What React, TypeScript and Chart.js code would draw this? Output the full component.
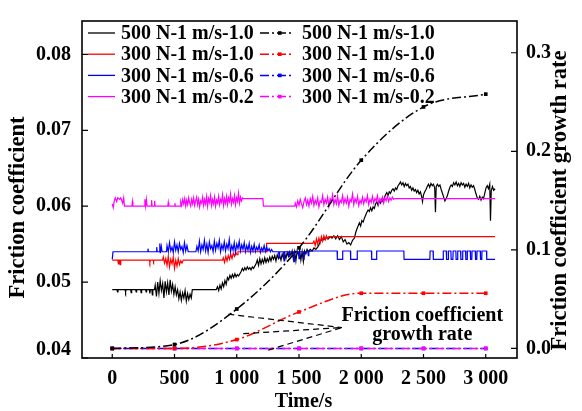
import React, { useEffect, useRef } from 'react';
import { Chart, registerables } from 'chart.js';

Chart.register(...registerables);

const FONT = '"Liberation Serif", "Times New Roman", serif';

// ---------- axes ----------
const xTicks = [0, 500, 1000, 1500, 2000, 2500, 3000];
const xTickLabels = ['0', '500', '1 000', '1 500', '2 000', '2 500', '3 000'];
const yTicks = [0.04, 0.05, 0.06, 0.07, 0.08];
const yTickLabels = ['0.04', '0.05', '0.06', '0.07', '0.08'];
const y1Ticks = [0, 0.1, 0.2, 0.3];
const y1TickLabels = ['0.0', '0.1', '0.2', '0.3'];

const xTitle = 'Time/s';
const yTitle = 'Friction coefficient';
const y1Title = 'Friction coefficient growth rate';

// ---------- series ----------
const seriesLabels = ['500 N-1 m/s-1.0', '300 N-1 m/s-1.0', '300 N-1 m/s-0.6', '300 N-1 m/s-0.2'];
const seriesColors = ['#000000', '#ff0000', '#0000ff', '#ff00ff'];

// Friction coefficient [time s, value], 500 N 1 m/s (black)
const f500_10: [number, number][] = [
  [0, 0.0490], [38, 0.0490], [42, 0.0487], [46, 0.0490], [103, 0.0490], [107, 0.0487], [111, 0.0490],
  [148, 0.0490], [152, 0.0486], [156, 0.0490], [188, 0.0490], [192, 0.0487], [196, 0.0490], [228, 0.0490],
  [232, 0.0486], [236, 0.0490], [268, 0.0490], [272, 0.0487], [276, 0.0490], [298, 0.0490], [302, 0.0485],
  [306, 0.0490], [318, 0.0490], [322, 0.0483], [326, 0.0490], [339, 0.0490],
  [345, 0.0496], [355, 0.0481], [365, 0.0500], [375, 0.0485], [385, 0.0502], [395, 0.0489], [405, 0.0498],
  [415, 0.0479], [425, 0.0501], [435, 0.0487], [445, 0.0499], [455, 0.0483], [465, 0.0503], [475, 0.0488],
  [485, 0.0497], [495, 0.0484], [505, 0.0494],
  [515, 0.0483], [525, 0.0490], [535, 0.0478], [545, 0.0487], [555, 0.0476], [565, 0.0486], [575, 0.0479],
  [585, 0.0489], [595, 0.0475], [605, 0.0485], [615, 0.0477], [625, 0.0484], [635, 0.0479], [643, 0.0490], [835, 0.0490],
  [845, 0.0494], [855, 0.0489], [865, 0.0496], [875, 0.0491], [885, 0.0499], [895, 0.0494], [905, 0.0502],
  [915, 0.0497], [925, 0.0506], [935, 0.0503], [945, 0.0509], [955, 0.0505], [965, 0.0510], [975, 0.0506],
  [985, 0.0511], [995, 0.0507], [1005, 0.0510], [1015, 0.0508], [1025, 0.0511], [1035, 0.0514], [1045, 0.0518],
  [1055, 0.0515], [1065, 0.0519], [1075, 0.0516], [1085, 0.0520], [1095, 0.0517], [1105, 0.0519], [1115, 0.0516],
  [1125, 0.0520], [1135, 0.0518], [1145, 0.0521], [1155, 0.0524], [1165, 0.0529], [1175, 0.0522], [1185, 0.0531],
  [1195, 0.0524], [1205, 0.0530], [1215, 0.0525], [1225, 0.0532], [1235, 0.0526], [1245, 0.0531], [1255, 0.0527],
  [1265, 0.0533], [1275, 0.0528], [1285, 0.0534], [1295, 0.0530], [1305, 0.0535], [1315, 0.0528], [1325, 0.0536],
  [1335, 0.0531], [1345, 0.0535], [1355, 0.0529], [1365, 0.0537], [1375, 0.0532], [1385, 0.0538], [1395, 0.0531],
  [1405, 0.0539], [1415, 0.0534], [1425, 0.0540], [1435, 0.0535], [1445, 0.0541], [1455, 0.0530], [1465, 0.0540],
  [1475, 0.0528], [1485, 0.0541], [1495, 0.0536], [1505, 0.0542], [1515, 0.0529], [1525, 0.0540], [1535, 0.0527],
  [1545, 0.0541], [1555, 0.0537], [1565, 0.0543], [1575, 0.0540], [1590, 0.0543], [1605, 0.0541], [1620, 0.0545],
  [1635, 0.0543], [1650, 0.0546], [1660, 0.0549], [1670, 0.0553], [1680, 0.0556], [1690, 0.0555], [1700, 0.0558],
  [1710, 0.0556], [1720, 0.0559], [1735, 0.0557], [1750, 0.0560], [1765, 0.0558], [1780, 0.0561], [1795, 0.0557],
  [1810, 0.0561], [1825, 0.0556], [1840, 0.0560], [1855, 0.0553], [1870, 0.0556], [1885, 0.0550], [1900, 0.0552],
  [1915, 0.0549], [1930, 0.0555], [1945, 0.0558],
  [1955, 0.0565], [1965, 0.0570], [1975, 0.0574], [1985, 0.0578], [1995, 0.0574], [2005, 0.0581], [2015, 0.0579],
  [2025, 0.0584], [2035, 0.0588], [2045, 0.0592], [2055, 0.0595], [2065, 0.0593], [2075, 0.0598], [2085, 0.0594],
  [2095, 0.0599], [2105, 0.0597], [2115, 0.0603], [2125, 0.0606], [2135, 0.0601], [2145, 0.0607], [2155, 0.0604],
  [2165, 0.0609], [2175, 0.0606], [2185, 0.0611], [2195, 0.0615], [2205, 0.0618], [2215, 0.0614], [2225, 0.0619],
  [2235, 0.0617], [2245, 0.0621], [2255, 0.0623], [2265, 0.0620], [2275, 0.0624], [2285, 0.0622], [2295, 0.0627],
  [2305, 0.0629], [2315, 0.0632], [2325, 0.0628], [2335, 0.0631], [2345, 0.0626], [2355, 0.0630], [2365, 0.0627],
  [2375, 0.0629], [2385, 0.0624], [2395, 0.0626], [2405, 0.0621], [2415, 0.0624], [2425, 0.0620], [2435, 0.0622],
  [2445, 0.0618], [2455, 0.0621], [2465, 0.0616], [2475, 0.0619], [2485, 0.0613], [2492, 0.0606], [2500, 0.0615],
  [2510, 0.0619], [2520, 0.0622], [2530, 0.0626], [2540, 0.0629], [2550, 0.0625], [2560, 0.0630], [2570, 0.0627],
  [2580, 0.0629], [2590, 0.0624], [2596, 0.0592], [2602, 0.0626], [2612, 0.0629], [2622, 0.0626], [2632, 0.0628],
  [2642, 0.0622], [2652, 0.0617], [2662, 0.0612], [2672, 0.0607], [2682, 0.0610], [2692, 0.0614], [2702, 0.0620],
  [2712, 0.0625], [2722, 0.0628], [2732, 0.0626], [2742, 0.0631], [2752, 0.0628], [2762, 0.0632], [2772, 0.0627],
  [2782, 0.0630], [2792, 0.0626], [2802, 0.0631], [2812, 0.0628], [2822, 0.0630], [2832, 0.0625], [2842, 0.0629],
  [2852, 0.0626], [2862, 0.0630], [2872, 0.0624], [2882, 0.0628], [2892, 0.0625], [2902, 0.0627], [2912, 0.0622],
  [2922, 0.0616], [2932, 0.0611], [2942, 0.0609], [2952, 0.0613], [2962, 0.0608], [2972, 0.0612], [2982, 0.0610],
  [2992, 0.0617], [3002, 0.0624], [3012, 0.0627], [3022, 0.0623], [3032, 0.0629], [3038, 0.0581], [3044, 0.0620],
  [3054, 0.0626], [3064, 0.0621], [3075, 0.0623],
];

// Friction coefficient, 300 N 1 m/s (red)
const f300_10: [number, number][] = [
  [0, 0.0529], [45, 0.0529], [49, 0.0524], [53, 0.0529], [60, 0.0529], [64, 0.0523], [68, 0.0529],
  [298, 0.0529], [302, 0.0526], [306, 0.0529], [328, 0.0529], [332, 0.0527], [336, 0.0529], [404, 0.0529],
  [410, 0.0533], [420, 0.0525], [430, 0.0531], [440, 0.0522], [450, 0.0534], [460, 0.0520], [470, 0.0530],
  [480, 0.0524], [490, 0.0533], [500, 0.0518], [510, 0.0529], [520, 0.0521], [530, 0.0531], [540, 0.0523],
  [550, 0.0528], [560, 0.0525], [570, 0.0529], [886, 0.0529],
  [892, 0.0532], [902, 0.0526], [912, 0.0534], [922, 0.0528], [932, 0.0535], [942, 0.0530], [952, 0.0537],
  [962, 0.0531], [972, 0.0538], [982, 0.0534], [992, 0.0539], [1002, 0.0536], [1010, 0.0540], [1236, 0.0540],
  [1240, 0.0551], [1611, 0.0551],
  [1620, 0.0554], [1630, 0.0548], [1640, 0.0557], [1650, 0.0550], [1660, 0.0558], [1670, 0.0552], [1680, 0.0560],
  [1690, 0.0554], [1700, 0.0561], [1710, 0.0556], [1720, 0.0561], [1730, 0.0557], [1740, 0.0560], [1750, 0.0560],
  [3075, 0.0560],
];

// Friction coefficient, 300 N 0.6 m/s (blue)
const f300_06: [number, number][] = [
  [0, 0.0530], [6, 0.0540], [283, 0.0540], [287, 0.0544], [291, 0.0540], [353, 0.0540], [357, 0.0546],
  [361, 0.0540], [378, 0.0540], [382, 0.0551], [386, 0.0538], [394, 0.0547], [400, 0.0540], [436, 0.0540],
  [440, 0.0548], [450, 0.0540], [460, 0.0552], [470, 0.0541], [480, 0.0546], [490, 0.0539], [500, 0.0553],
  [510, 0.0542], [520, 0.0549], [530, 0.0540], [540, 0.0551], [550, 0.0543], [560, 0.0547], [570, 0.0539],
  [580, 0.0552], [590, 0.0541], [600, 0.0548], [610, 0.0540], [618, 0.0540], [672, 0.0540],
  [680, 0.0547], [690, 0.0541], [700, 0.0554], [710, 0.0540], [720, 0.0549], [730, 0.0543], [740, 0.0555],
  [750, 0.0541], [760, 0.0550], [770, 0.0539], [780, 0.0553], [790, 0.0544], [800, 0.0548], [810, 0.0540],
  [820, 0.0554], [830, 0.0542], [840, 0.0551], [850, 0.0545], [860, 0.0555], [870, 0.0540], [880, 0.0549],
  [890, 0.0543], [900, 0.0553], [910, 0.0541], [920, 0.0550], [930, 0.0544], [940, 0.0556], [950, 0.0540],
  [960, 0.0548], [970, 0.0542], [980, 0.0552], [990, 0.0539], [1000, 0.0550], [1010, 0.0544], [1020, 0.0554],
  [1030, 0.0541], [1040, 0.0549], [1050, 0.0543], [1060, 0.0552], [1070, 0.0540], [1080, 0.0548], [1090, 0.0542],
  [1100, 0.0551], [1110, 0.0539], [1120, 0.0547], [1130, 0.0541], [1140, 0.0550], [1150, 0.0540], [1160, 0.0546],
  [1170, 0.0542], [1180, 0.0549], [1190, 0.0539], [1200, 0.0545], [1210, 0.0541], [1220, 0.0548], [1230, 0.0540],
  [1240, 0.0546], [1250, 0.0541], [1260, 0.0544], [1270, 0.0540], [1280, 0.0543], [1290, 0.0540],
  [1336, 0.0540], [1340, 0.0532], [1344, 0.0540], [1376, 0.0540], [1380, 0.0528], [1384, 0.0540], [1416, 0.0540],
  [1420, 0.0534], [1424, 0.0540], [1456, 0.0540], [1460, 0.0527], [1464, 0.0540], [1496, 0.0540], [1500, 0.0531],
  [1504, 0.0540], [1536, 0.0540], [1540, 0.0529], [1544, 0.0540], [1571, 0.0540], [1575, 0.0535], [1579, 0.0540],
  [1600, 0.0541], [1806, 0.0541], [1808, 0.0530], [1849, 0.0530], [1851, 0.0541], [1913, 0.0541], [1915, 0.0530],
  [1966, 0.0530], [1968, 0.0541], [2082, 0.0541], [2084, 0.0530], [2122, 0.0530], [2124, 0.0541], [2342, 0.0541],
  [2344, 0.0530], [2551, 0.0530], [2553, 0.0541], [2577, 0.0541], [2579, 0.0530], [2657, 0.0530], [2659, 0.0541],
  [2683, 0.0541], [2685, 0.0530], [2698, 0.0530], [2700, 0.0541], [2720, 0.0541], [2722, 0.0530], [2736, 0.0530],
  [2738, 0.0541], [2760, 0.0541], [2762, 0.0530], [2773, 0.0530], [2775, 0.0541], [2798, 0.0541], [2800, 0.0530],
  [2813, 0.0530], [2815, 0.0541], [2838, 0.0541], [2840, 0.0530], [2850, 0.0530], [2852, 0.0541], [2876, 0.0541],
  [2878, 0.0530], [2888, 0.0530], [2890, 0.0541], [2916, 0.0541], [2918, 0.0530], [2928, 0.0530], [2930, 0.0541],
  [2956, 0.0541], [2958, 0.0530], [2968, 0.0530], [2970, 0.0541], [3006, 0.0541], [3008, 0.0530], [3075, 0.0530],
];

// Friction coefficient, 300 N 0.2 m/s (magenta)
const f300_02: [number, number][] = [
  [0, 0.0603], [8, 0.0598], [16, 0.0607], [24, 0.0611], [36, 0.0606], [44, 0.0611], [60, 0.0609], [68, 0.0611],
  [84, 0.0604], [92, 0.0611], [98, 0.0600],
  [158, 0.0600], [162, 0.0606], [166, 0.0600], [258, 0.0600], [262, 0.0609], [268, 0.0600], [274, 0.0609],
  [280, 0.0600], [312, 0.0600], [316, 0.0608], [320, 0.0600], [336, 0.0600], [340, 0.0607], [344, 0.0600],
  [446, 0.0600], [450, 0.0605], [454, 0.0600], [499, 0.0600], [503, 0.0604], [507, 0.0600], [545, 0.0600],
  [550, 0.0606], [558, 0.0601], [566, 0.0609], [574, 0.0603], [582, 0.0610], [590, 0.0600], [598, 0.0608],
  [606, 0.0602], [614, 0.0611], [622, 0.0604], [630, 0.0600], [638, 0.0609], [646, 0.0603], [654, 0.0611],
  [662, 0.0601], [670, 0.0607], [678, 0.0612], [686, 0.0602], [694, 0.0609], [702, 0.0599], [710, 0.0607],
  [718, 0.0604], [726, 0.0612], [734, 0.0601], [742, 0.0609], [750, 0.0603], [758, 0.0613], [766, 0.0600],
  [774, 0.0610], [782, 0.0605], [790, 0.0614], [798, 0.0601], [806, 0.0609], [814, 0.0603], [822, 0.0612],
  [830, 0.0600], [838, 0.0608], [846, 0.0604], [854, 0.0613], [862, 0.0602], [870, 0.0609], [878, 0.0605],
  [886, 0.0615], [894, 0.0601], [902, 0.0610], [910, 0.0604], [918, 0.0613], [926, 0.0602], [934, 0.0611],
  [942, 0.0606], [950, 0.0616], [958, 0.0603], [966, 0.0610], [974, 0.0605], [982, 0.0614], [990, 0.0602],
  [998, 0.0611], [1006, 0.0606], [1014, 0.0617], [1022, 0.0604], [1030, 0.0612], [1038, 0.0607], [1046, 0.0611],
  [1052, 0.0610], [1210, 0.0610], [1214, 0.0600], [1466, 0.0600],
  [1470, 0.0604], [1480, 0.0599], [1490, 0.0607], [1500, 0.0601], [1510, 0.0609], [1520, 0.0603], [1530, 0.0598],
  [1540, 0.0606], [1550, 0.0611], [1560, 0.0602], [1570, 0.0608], [1580, 0.0600], [1590, 0.0610], [1600, 0.0604],
  [1610, 0.0613], [1620, 0.0601], [1630, 0.0608], [1640, 0.0603], [1650, 0.0611], [1660, 0.0599], [1670, 0.0607],
  [1680, 0.0605], [1690, 0.0614], [1700, 0.0602], [1710, 0.0609], [1720, 0.0604], [1730, 0.0612], [1740, 0.0600],
  [1750, 0.0610], [1760, 0.0606], [1770, 0.0615], [1780, 0.0602], [1790, 0.0609], [1800, 0.0603], [1810, 0.0613],
  [1820, 0.0601], [1830, 0.0608], [1840, 0.0605], [1850, 0.0614], [1860, 0.0603], [1870, 0.0610], [1880, 0.0604],
  [1890, 0.0612], [1900, 0.0600], [1910, 0.0609], [1920, 0.0606], [1930, 0.0616], [1940, 0.0602], [1950, 0.0610],
  [1960, 0.0605], [1970, 0.0613], [1980, 0.0601], [1990, 0.0608], [2000, 0.0604], [2010, 0.0612], [2020, 0.0603],
  [2030, 0.0610], [2040, 0.0606], [2050, 0.0614], [2060, 0.0602], [2070, 0.0609], [2080, 0.0605], [2090, 0.0613],
  [2100, 0.0604], [2110, 0.0610], [2120, 0.0607], [2130, 0.0614], [2140, 0.0603], [2150, 0.0610], [2160, 0.0606],
  [2170, 0.0612], [2180, 0.0604], [2190, 0.0611], [2200, 0.0607], [2210, 0.0613], [2220, 0.0606], [2230, 0.0611],
  [2240, 0.0608], [2250, 0.0612], [2260, 0.0609], [2268, 0.0610], [3075, 0.0610],
];

// Friction coefficient growth rate (right axis)
const growthT = [0, 500, 1000, 1500, 2000, 2500, 3000];
const g500_10 = [0, 0.004, 0.040, 0.102, 0.191, 0.245, 0.258];
const g300_10 = [0, 0.000, 0.009, 0.037, 0.056, 0.056, 0.056];
const g300_06 = [0, 0, 0, 0, 0, 0, 0];
const g300_02 = [0, 0, 0, 0, 0, 0, 0];

// Annotation (data coordinates: time, growth rate)
const annoText = ['Friction coefficient', 'growth rate'];
const annoTextT = 2490;
const annoTextR = [0.0332, 0.0143];
const annoStartT = [932, 1052, 1253];
const annoStartR = [0.0347, 0.015, -0.0017];
const annoEndT = 1845;
const annoEndR = 0.0212;

const DASHDOT = [9, 3, 2, 3];

const overlayPlugin = {
  id: 'overlay',
  afterDraw(chart: any) {
    const { ctx, chartArea: a, scales } = chart;
    const sx = scales.x, sy = scales.y, sy1 = scales.y1;
    ctx.save();
    // frame
    ctx.strokeStyle = '#000';
    ctx.lineWidth = 1.6;
    ctx.setLineDash([]);
    ctx.strokeRect(a.left, a.top, a.right - a.left, a.bottom - a.top);
    // inward tick marks
    ctx.lineWidth = 1.2;
    ctx.beginPath();
    yTicks.forEach((v) => { const p = sy.getPixelForValue(v); ctx.moveTo(a.left, p); ctx.lineTo(a.left + 6, p); });
    y1Ticks.forEach((v) => { const p = sy1.getPixelForValue(v); ctx.moveTo(a.right, p); ctx.lineTo(a.right - 6, p); });
    xTicks.forEach((v) => { const p = sx.getPixelForValue(v); ctx.moveTo(p, a.bottom); ctx.lineTo(p, a.bottom - 4); });
    ctx.stroke();

    // axis titles
    ctx.fillStyle = '#000';
    ctx.textAlign = 'center';
    ctx.textBaseline = 'middle';
    ctx.font = `bold 20px ${FONT}`;
    ctx.fillText(xTitle, (a.left + a.right) / 2 + 4, 402);
    ctx.font = `bold 22.5px ${FONT}`;
    ctx.save();
    ctx.translate(18.5, (a.top + a.bottom) / 2 + 18);
    ctx.rotate(-Math.PI / 2);
    ctx.fillText(yTitle, 0, 0);
    ctx.restore();
    ctx.save();
    ctx.translate(a.right + 43, (a.top + a.bottom) / 2 + 11);
    ctx.rotate(-Math.PI / 2);
    ctx.fillText(y1Title, 0, 0);
    ctx.restore();

    // legend
    ctx.font = `bold 20px ${FONT}`;
    ctx.textAlign = 'left';
    seriesLabels.forEach((lab, i) => {
      const yy = a.top + 12 + i * 21.2;
      const col = seriesColors[i];
      ctx.strokeStyle = col;
      ctx.lineWidth = 1.3;
      ctx.setLineDash([]);
      ctx.beginPath();
      ctx.moveTo(a.left + 6, yy);
      ctx.lineTo(a.left + 33, yy);
      ctx.stroke();
      ctx.fillStyle = '#000';
      ctx.fillText(lab, a.left + 39, yy + 1);
      ctx.setLineDash(DASHDOT);
      ctx.lineWidth = 1.5;
      ctx.beginPath();
      ctx.moveTo(a.left + 178, yy);
      ctx.lineTo(a.left + 211, yy);
      ctx.stroke();
      ctx.setLineDash([]);
      ctx.fillStyle = col;
      ctx.fillRect(a.left + 196, yy - 1.8, 3.6, 3.6);
      ctx.fillStyle = '#000';
      ctx.fillText(lab, a.left + 220, yy + 1);
    });

    // annotation
    const ex = sx.getPixelForValue(annoEndT);
    const ey = sy1.getPixelForValue(annoEndR);
    ctx.strokeStyle = '#000';
    ctx.lineWidth = 1.2;
    ctx.setLineDash([6, 4]);
    annoStartT.forEach((t, i) => {
      ctx.beginPath();
      ctx.moveTo(sx.getPixelForValue(t), sy1.getPixelForValue(annoStartR[i]));
      ctx.lineTo(ex, ey);
      ctx.stroke();
    });
    ctx.setLineDash([]);
    ctx.textAlign = 'center';
    ctx.font = `bold 20px ${FONT}`;
    annoText.forEach((s, i) => {
      ctx.fillText(s, sx.getPixelForValue(annoTextT), sy1.getPixelForValue(annoTextR[i]));
    });
    ctx.restore();
  },
};

export default function App() {
  const ref = useRef<HTMLCanvasElement | null>(null);
  useEffect(() => {
    if (!ref.current) return;
    const growthDs = (label: string, data: number[], color: string, offset: number) => ({
      label,
      data: growthT.map((x, i) => ({ x, y: data[i] })),
      yAxisID: 'y1',
      borderColor: color,
      backgroundColor: color,
      borderWidth: 1.5,
      borderDash: DASHDOT,
      borderDashOffset: offset,
      cubicInterpolationMode: 'monotone' as const,
      pointStyle: 'rect' as const,
      pointRadius: 2.6,
      pointBorderWidth: 0,
      pointBackgroundColor: color,
      fill: false,
    });
    const frictionDs = (label: string, d: [number, number][], color: string) => ({
      label,
      data: d.map(([x, y]) => ({ x, y })),
      yAxisID: 'y',
      borderColor: color,
      backgroundColor: color,
      borderWidth: 1.2,
      tension: 0,
      pointRadius: 0,
      fill: false,
    });
    const tickFont = { family: FONT, size: 20, weight: 'bold' as const, lineHeight: 1.2 };
    const chart = new Chart(ref.current, {
      type: 'line',
      data: {
        datasets: [
          growthDs(seriesLabels[0], g500_10, seriesColors[0], 0),
          growthDs(seriesLabels[1], g300_10, seriesColors[1], 0),
          growthDs(seriesLabels[3], g300_02, seriesColors[3], 0),
          growthDs(seriesLabels[2], g300_06, seriesColors[2], 6),
          frictionDs(seriesLabels[3], f300_02, seriesColors[3]),
          frictionDs(seriesLabels[2], f300_06, seriesColors[2]),
          frictionDs(seriesLabels[1], f300_10, seriesColors[1]),
          frictionDs(seriesLabels[0], f500_10, seriesColors[0]),
        ] as any,
      },
      options: {
        responsive: false,
        animation: false,
        devicePixelRatio: 1,
        layout: { padding: { top: 15, left: 0, right: 0, bottom: 0 } },
        plugins: { legend: { display: false }, tooltip: { enabled: false } },
        scales: {
          x: {
            type: 'linear',
            min: -243,
            max: 3251,
            grid: { display: false, drawTicks: false },
            border: { display: false },
            afterBuildTicks: (s: any) => { s.ticks = xTicks.map((v) => ({ value: v })); },
            afterFit: (s: any) => { s.height = 53; },
            ticks: {
              autoSkip: false,
              maxRotation: 0,
              minRotation: 0,
              padding: 9,
              color: '#000',
              font: tickFont,
              callback: (v: any, i: number) => xTickLabels[i],
            },
          },
          y: {
            type: 'linear',
            position: 'left',
            min: 0.04,
            max: 0.0844,
            grid: { display: false, drawTicks: false },
            border: { display: false },
            afterBuildTicks: (s: any) => { s.ticks = yTicks.map((v) => ({ value: v })); },
            afterFit: (s: any) => { s.width = 82; },
            ticks: {
              padding: 11,
              color: '#000',
              font: { family: FONT, size: 20, weight: 'bold' as const, lineHeight: 0.8 },
              callback: (v: any, i: number) => (i === 0 ? [yTickLabels[i], ''] : yTickLabels[i]),
            },
          },
          y1: {
            type: 'linear',
            position: 'right',
            min: -0.0097,
            max: 0.3322,
            grid: { display: false, drawTicks: false },
            border: { display: false },
            afterBuildTicks: (s: any) => { s.ticks = y1Ticks.map((v) => ({ value: v })); },
            afterFit: (s: any) => { s.width = 65; },
            ticks: {
              padding: 9,
              color: '#000',
              font: tickFont,
              callback: (v: any, i: number) => y1TickLabels[i],
            },
          },
        },
      } as any,
      plugins: [overlayPlugin],
    });
    return () => chart.destroy();
  }, []);
  return (
    <div style={{ position: 'fixed', left: 0, top: 0, width: 582, height: 411, background: '#fff' }}>
      <canvas ref={ref} width={582} height={411} style={{ display: 'block', width: 582, height: 411 }} />
    </div>
  );
}
